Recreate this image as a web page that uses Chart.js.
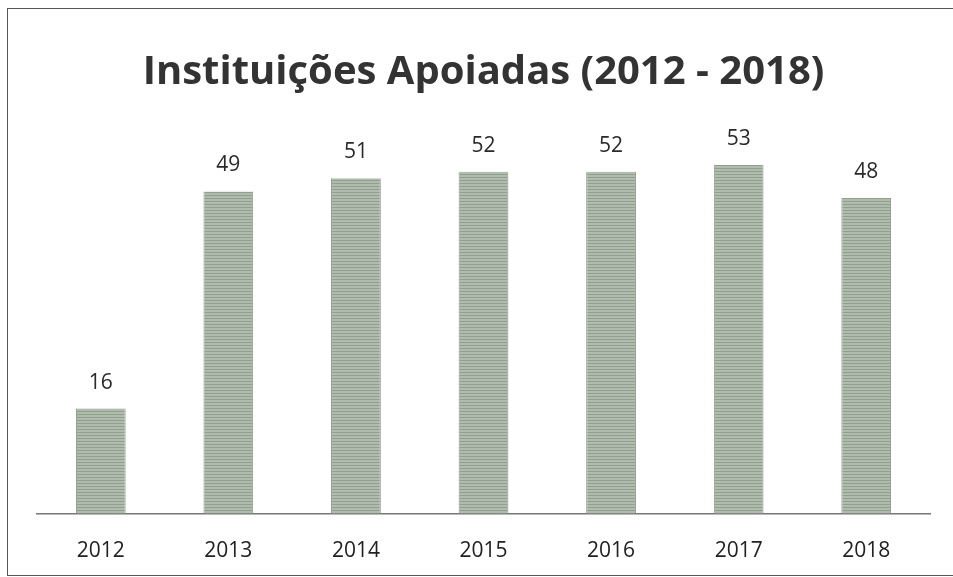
<!DOCTYPE html>
<html>
<head>
<meta charset="utf-8">
<script src="https://cdn.jsdelivr.net/npm/chart.js@4/dist/chart.umd.min.js"></script>
<style>
html,body{margin:0;padding:0;background:#fff;}
#wrap{position:relative;width:953px;height:577px;}
#frame{position:absolute;left:7px;top:8px;width:960px;height:568px;border:1.5px solid #555;box-sizing:border-box;}
canvas{position:absolute;left:0;top:0;}
</style>
</head>
<body>
<div id="wrap">
<div id="frame"></div>
<canvas id="c" width="953" height="577"></canvas>
</div>
<script>
const categories = ["2012","2013","2014","2015","2016","2017","2018"];
const values = [16,49,51,52,52,53,48];
const titleText = "Instituições Apoiadas (2012 - 2018)";

const ctx = document.getElementById('c').getContext('2d');
const pattern = ctx.createPattern((function(){
  const p = document.createElement('canvas');
  p.width = 4; p.height = 3;
  const g = p.getContext('2d');
  g.fillStyle = '#b0bcad';
  g.fillRect(0,0,4,3);
  g.fillStyle = '#919f8f';
  g.fillRect(0,0,4,1);
  return p;
})(),'repeat');

const labelPlugin = {
  id:'valueLabels',
  afterDatasetsDraw(chart){
    const c = chart.ctx;
    const meta = chart.getDatasetMeta(0);
    c.save();
    c.font = '21px "Open Sans", sans-serif';
    c.fillStyle = '#2a2a2a';
    c.textAlign = 'center';
    c.textBaseline = 'middle';
    meta.data.forEach((bar,i)=>{
      c.fillText(String(values[i]), bar.x, bar.y - 26);
    });
    c.restore();
  }
};

new Chart(ctx,{
  type:'bar',
  data:{labels:categories,datasets:[{data:values,backgroundColor:pattern,borderColor:'#8a9688',borderWidth:{left:1,right:1,top:0,bottom:0},barPercentage:0.39,categoryPercentage:1}]},
  options:{
    responsive:false,
    animation:false,
    layout:{padding:{left:37,right:23,top:0,bottom:0}},
    plugins:{
      legend:{display:false},
      tooltip:{enabled:false},
      title:{display:true,text:titleText,color:'#333',font:{family:'"Open Sans", sans-serif',size:40,weight:'bold'},padding:{top:49,bottom:22}}
    },
    scales:{
      x:{grid:{display:false,drawTicks:false},border:{display:true,color:'#777',width:1.5},ticks:{color:'#222',font:{family:'"Open Sans", sans-serif',size:21},padding:25},
         afterFit(scale){ scale.height -= 12; }},
      y:{display:false,min:0,max:60}
    }
  },
  plugins:[labelPlugin]
});
</script>
</body>
</html>
